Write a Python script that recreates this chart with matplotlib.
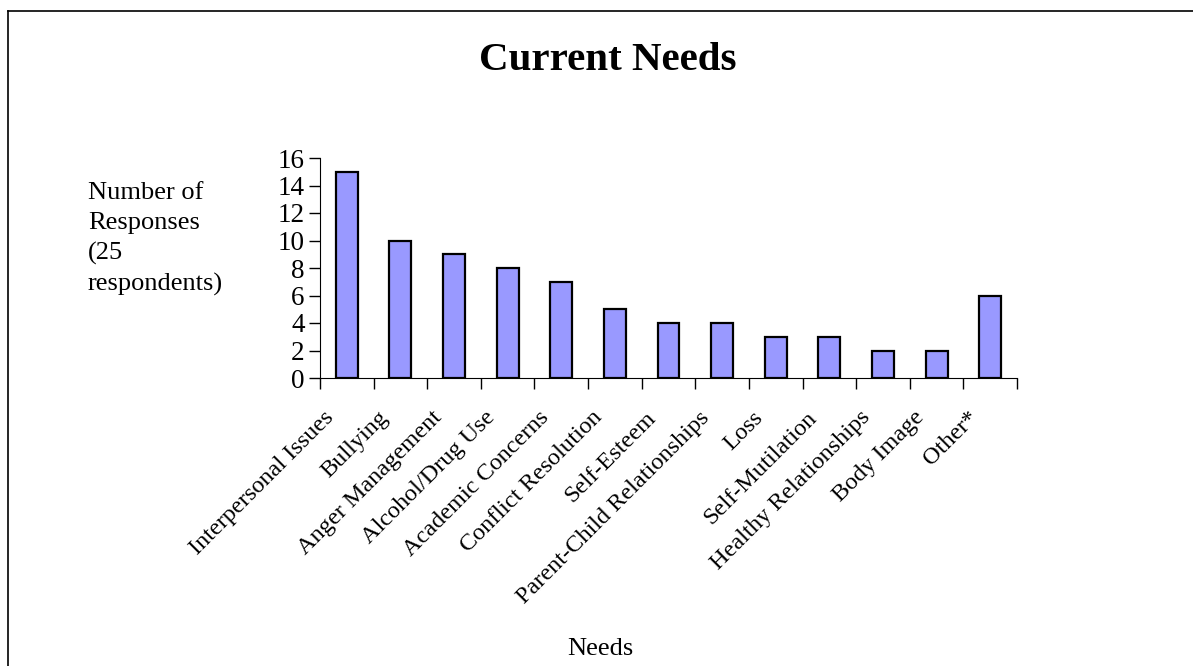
import matplotlib.pyplot as plt
import numpy as np
from matplotlib.lines import Line2D

needs = ['Interpersonal Issues', 'Bullying', 'Anger Management', 'Alcohol/Drug Use',
         'Academic Concerns', 'Conflict Resolution', 'Self-Esteem',
         'Parent-Child Relationships', 'Loss', 'Self-Mutilation',
         'Healthy Relationships', 'Body Image', 'Other*']
responses = [15, 10, 9, 8, 7, 5, 4, 4, 3, 3, 2, 2, 6]
yticks = [0, 2, 4, 6, 8, 10, 12, 14, 16]

plt.rcParams['font.family'] = ['Liberation Serif', 'DejaVu Serif']

W, H = 1193, 666
fig = plt.figure(figsize=(W / 100, H / 100), dpi=100)
ax = fig.add_axes([320 / W, (H - 378) / H, (1017 - 320) / W, (378 - 158) / H])

pos = np.arange(len(needs))
ax.bar(pos, responses, 0.41, color='#9999FF', edgecolor='black', linewidth=1.6)

ax.set_xlim(-0.5, len(needs) - 0.5)
ax.set_ylim(0, 16)
ax.set_yticks(yticks)
ax.tick_params(axis='y', labelsize=19.5, length=8, width=1, direction='out', pad=3)

# ticks between categories
ax.set_xticks(np.arange(len(needs) + 1) - 0.5)
ax.set_xticklabels([])
ax.tick_params(axis='x', length=8, width=1, direction='out')
for i, lab in enumerate(needs):
    ax.annotate(lab, xy=(i, 0), xycoords=('data', 'axes fraction'),
                xytext=(-6, -21), textcoords='offset points',
                rotation=45, ha='right', va='top', fontsize=17.5)

for s in ['top', 'right']:
    ax.spines[s].set_visible(False)

fig.text(608 / W, 1 - 60 / H, 'Current Needs', ha='center', va='center',
         fontsize=29.5, fontweight='bold')
fig.text(88 / W, 1 - 239 / H, 'Number of\nResponses\n(25\nrespondents)',
         ha='left', va='center', fontsize=19, linespacing=1.47)
fig.text(600 / W, 1 - 649 / H, 'Needs', ha='center', va='center', fontsize=19)

# frame lines (top and left)
fig.add_artist(Line2D([8 / W, 1], [1 - 11 / H, 1 - 11 / H], color='black', lw=1.2,
                      transform=fig.transFigure))
fig.add_artist(Line2D([8 / W, 8 / W], [0, 1 - 11 / H], color='black', lw=1.2,
                      transform=fig.transFigure))

fig.savefig('out.png', dpi=100)
